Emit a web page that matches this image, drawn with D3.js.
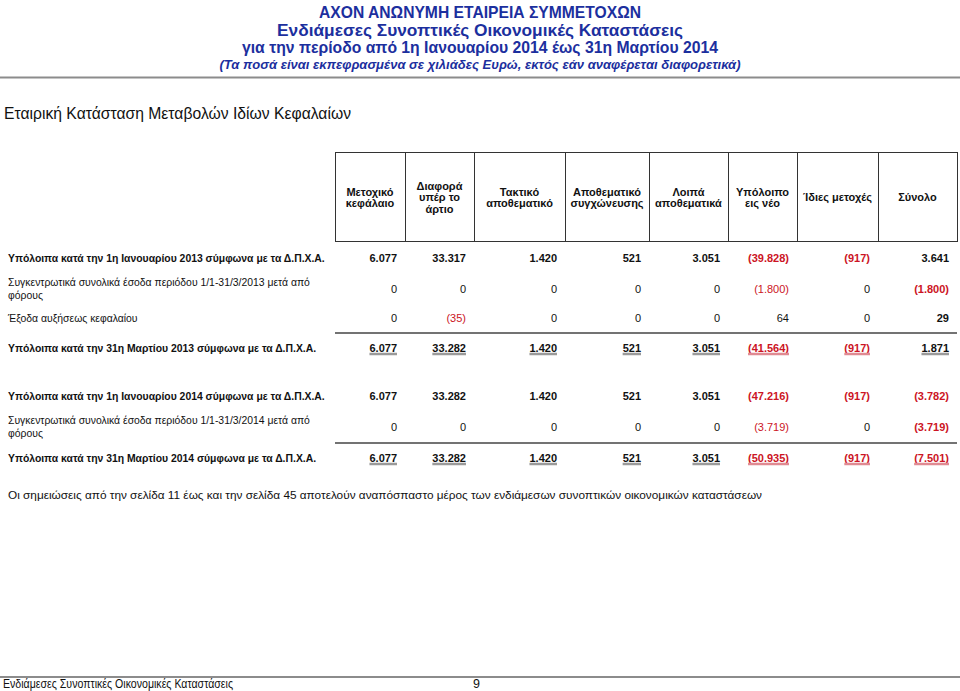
<!DOCTYPE html>
<html><head><meta charset="utf-8">
<script src="https://cdn.jsdelivr.net/npm/d3@7"></script>
<style>
body{margin:0;background:#fff;}
svg{display:block;}
text{font-family:Arial,"Liberation Sans",sans-serif;}
</style></head>
<body><svg id="c" width="960" height="691"></svg>
<script>
// ---- data ----
const titles = [
  "ΑΧΟΝ ΑΝΩΝΥΜΗ ΕΤΑΙΡΕΙΑ ΣΥΜΜΕΤΟΧΩΝ",
  "Ενδιάμεσες Συνοπτικές Οικονομικές Καταστάσεις",
  "για την περίοδο από 1η Ιανουαρίου 2014 έως 31η Μαρτίου 2014"
];
const subtitle = "(Τα ποσά είναι εκπεφρασμένα σε χιλιάδες Ευρώ, εκτός εάν αναφέρεται διαφορετικά)";
const sectionTitle = "Εταιρική Κατάσταση Μεταβολών Ιδίων Κεφαλαίων";
const columns = ["Μετοχικό κεφάλαιο","Διαφορά υπέρ το άρτιο","Τακτικό αποθεματικό","Αποθεματικό συγχώνευσης","Λοιπά αποθεματικά","Υπόλοιπο εις νέο","Ίδιες μετοχές","Σύνολο"];
const columnLines = [["Μετοχικό","κεφάλαιο"],["Διαφορά","υπέρ το","άρτιο"],["Τακτικό","αποθεματικό"],["Αποθεματικό","συγχώνευσης"],["Λοιπά","αποθεματικά"],["Υπόλοιπο","εις νέο"],["Ίδιες μετοχές"],["Σύνολο"]];
const rowLabels = [
  ["Υπόλοιπα κατά την 1η Ιανουαρίου 2013 σύμφωνα με τα Δ.Π.Χ.Α."],
  ["Συγκεντρωτικά συνολικά έσοδα περιόδου 1/1-31/3/2013 μετά από","φόρους"],
  ["Έξοδα αυξήσεως κεφαλαίου"],
  ["Υπόλοιπα κατά την 31η Μαρτίου 2013 σύμφωνα με τα Δ.Π.Χ.Α."],
  ["Υπόλοιπα κατά την 1η Ιανουαρίου 2014 σύμφωνα με τα Δ.Π.Χ.Α."],
  ["Συγκεντρωτικά συνολικά έσοδα περιόδου 1/1-31/3/2014 μετά από","φόρους"],
  ["Υπόλοιπα κατά την 31η Μαρτίου 2014 σύμφωνα με τα Δ.Π.Χ.Α."]
];
const rowKinds = ["balance","movement","movement","total","balance","movement","total"];
const row1 = [6077, 33317, 1420, 521, 3051, -39828, -917, 3641];
const row2 = [0, 0, 0, 0, 0, -1800, 0, -1800];
const row3 = [0, -35, 0, 0, 0, 64, 0, 29];
const row4 = [6077, 33282, 1420, 521, 3051, -41564, -917, 1871];
const row5 = [6077, 33282, 1420, 521, 3051, -47216, -917, -3782];
const row6 = [0, 0, 0, 0, 0, -3719, 0, -3719];
const row7 = [6077, 33282, 1420, 521, 3051, -50935, -917, -7501];
const footnote = "Οι σημειώσεις από την σελίδα 11 έως και την σελίδα 45 αποτελούν αναπόσπαστο μέρος των ενδιάμεσων συνοπτικών οικονομικών καταστάσεων";
const footerText = "Ενδιάμεσες Συνοπτικές Οικονομικές Καταστάσεις";
const pageNumber = "9";

// ---- layout ----
const rows = [row1,row2,row3,row4,row5,row6,row7];
const svg = d3.select("#c");
const blue = "#1c2f9e", red = "#cc1424";
const locale = d3.formatLocale({decimal:",", thousands:".", grouping:[3], currency:["","€"]});
const f = locale.format(",d");
const fmt = v => v < 0 ? "(" + f(-v) + ")" : f(v);

const colEdges = [335, 405, 474, 565, 649, 728, 797, 878, 957];
const xLeft = d3.scaleOrdinal().domain(columns).range(colEdges.slice(0,-1));
const xRight = d3.scaleOrdinal().domain(columns).range(colEdges.slice(1));
const y = d3.scaleOrdinal().domain(d3.range(rows.length)).range([258, 289, 318, 348, 396, 427, 458]);

// titles (condensed look via textLength)
const tY = [12.5, 30, 47.5], tW = [322, 406, 476];
svg.selectAll("text.title").data(titles).join("text")
  .attr("x", 480).attr("y", (d,i)=>tY[i]).attr("dy","0.35em")
  .attr("text-anchor","middle").attr("fill", blue)
  .attr("textLength",(d,i)=>tW[i]).attr("lengthAdjust","spacingAndGlyphs")
  .style("font-weight","bold").style("font-size","17px").text(d=>d);
svg.append("text").attr("x",480).attr("y",64.5).attr("dy","0.35em")
  .attr("text-anchor","middle").attr("fill", blue)
  .attr("textLength",521).attr("lengthAdjust","spacingAndGlyphs")
  .style("font-weight","bold").style("font-style","italic").style("font-size","13.5px").text(subtitle);
svg.append("line").attr("x1",0).attr("x2",960).attr("y1",77.5).attr("y2",77.5)
  .attr("stroke","#8c8c8c").attr("stroke-width",2);

svg.append("text").attr("x",4).attr("y",113).attr("dy","0.35em")
  .attr("textLength",347).attr("lengthAdjust","spacingAndGlyphs")
  .style("font-size","17px").attr("fill","#111").text(sectionTitle);

// header box
const hTop = 152, hBot = 241, hMid = 197.5, lh = 11.5;
svg.append("rect").attr("x",colEdges[0]+0.5).attr("y",hTop+0.5)
  .attr("width",colEdges[colEdges.length-1]-colEdges[0]).attr("height",hBot-hTop)
  .attr("fill","none").attr("stroke","#333").attr("stroke-width",1);
svg.selectAll("line.div").data(columns.slice(1)).join("line")
  .attr("x1",d=>xLeft(d)+0.5).attr("x2",d=>xLeft(d)+0.5).attr("y1",hTop).attr("y2",hBot)
  .attr("stroke","#333");
const hg = svg.selectAll("g.h").data(columns).join("g");
hg.each(function(c,i){
  const lines = columnLines[i];
  const cx = (xLeft(c)+xRight(c))/2;
  d3.select(this).selectAll("text").data(lines).join("text")
    .attr("x",cx).attr("y",(d,j)=>hMid + (j-(lines.length-1)/2)*lh).attr("dy","0.35em")
    .attr("text-anchor","middle").style("font-size","11px").style("font-weight","bold")
    .attr("fill","#111").text(d=>d);
});

// rows
rows.forEach((vals,r)=>{
  const kind = rowKinds[r];
  const bold = kind !== "movement";
  const lbl = rowLabels[r];
  const ly = lbl.length>1 ? [y(r)-6.5, y(r)+6.5] : [y(r)];
  svg.append("g").selectAll("text").data(lbl).join("text")
    .attr("x",8).attr("y",(d,j)=>ly[j]).attr("dy","0.35em")
    .style("font-size","10.4px").style("font-weight", bold?"bold":"normal")
    .attr("fill","#111").text(d=>d);
  const g = svg.append("g");
  vals.forEach((v,ci)=>{
    const c = columns[ci];
    const b = bold || ci === columns.length-1;
    const t = g.append("text").attr("x", xRight(c)-8).attr("y", y(r)).attr("dy","0.35em")
      .attr("text-anchor","end").style("font-size","11px")
      .style("font-weight", b?"bold":"normal")
      .attr("fill", v<0 ? red : "#111").text(fmt(v));
    if(kind==="total"){
      const w = t.node().getComputedTextLength();
      g.append("line").attr("x1",xRight(c)-8-w).attr("x2",xRight(c)-8)
        .attr("y1",y(r)+6).attr("y2",y(r)+6).attr("stroke", v<0 ? "#e08a92" : "#9a9a9a").attr("stroke-width",2.5);
    }
  });
  if(kind==="total"){
    svg.append("line").attr("x1",colEdges[0]).attr("x2",colEdges[colEdges.length-1])
      .attr("y1",y(r)-15).attr("y2",y(r)-15).attr("stroke","#444").attr("stroke-width",1.3);
  }
});

svg.append("text").attr("x",8).attr("y",495).attr("dy","0.35em")
  .style("font-size","11.8px").attr("fill","#111").text(footnote);

// footer
svg.append("line").attr("x1",0).attr("x2",960).attr("y1",677).attr("y2",677)
  .attr("stroke","#8c8c8c").attr("stroke-width",2);
svg.append("text").attr("x",3).attr("y",684).attr("dy","0.35em")
  .attr("textLength",230).attr("lengthAdjust","spacingAndGlyphs")
  .style("font-size","12.5px").attr("fill","#111").text(footerText);
svg.append("text").attr("x",473).attr("y",684).attr("dy","0.35em")
  .style("font-size","12.5px").attr("fill","#111").text(pageNumber);
</script></body></html>
